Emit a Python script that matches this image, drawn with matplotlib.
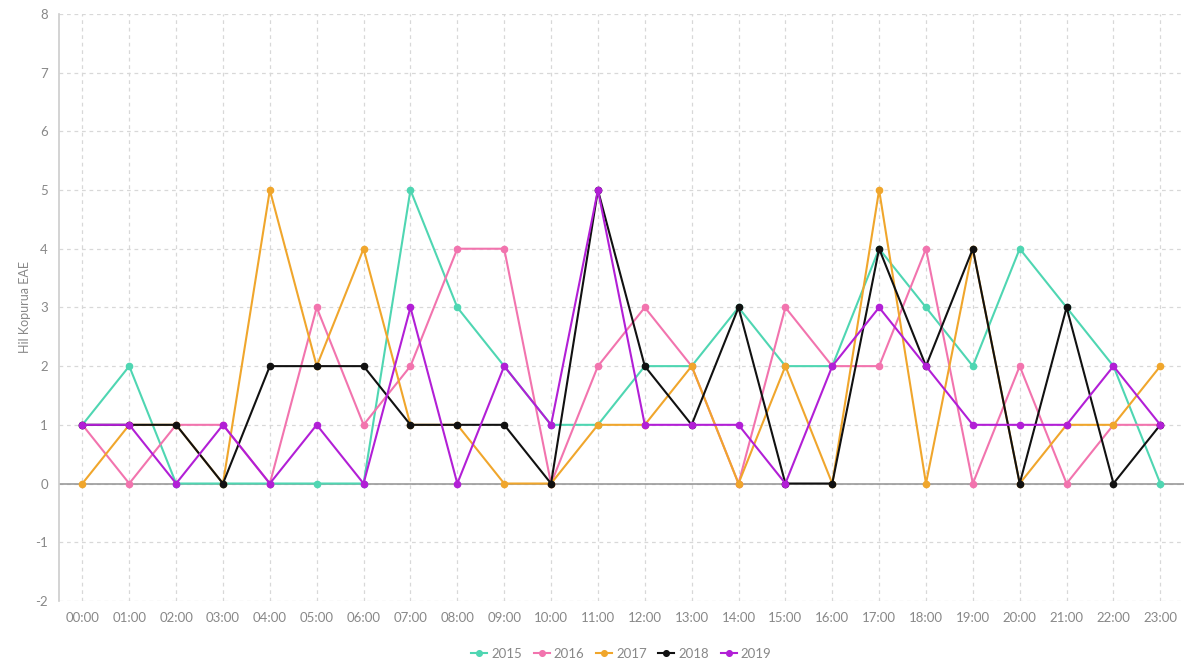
import matplotlib
matplotlib.use('Agg')
import matplotlib.pyplot as plt

plt.rcParams['font.family'] = ['Lato', 'DejaVu Sans']
plt.rcParams['axes.unicode_minus'] = False

hours = [f'{h:02d}:00' for h in range(24)]

y2015 = [1, 2, 0, 0, 0, 0, 0, 5, 3, 2, 1, 1, 2, 2, 3, 2, 2, 4, 3, 2, 4, 3, 2, 0]
y2016 = [1, 0, 1, 1, 0, 3, 1, 2, 4, 4, 0, 2, 3, 2, 0, 3, 2, 2, 4, 0, 2, 0, 1, 1]
y2017 = [0, 1, 1, 0, 5, 2, 4, 1, 1, 0, 0, 1, 1, 2, 0, 2, 0, 5, 0, 4, 0, 1, 1, 2]
y2018 = [1, 1, 1, 0, 2, 2, 2, 1, 1, 1, 0, 5, 2, 1, 3, 0, 0, 4, 2, 4, 0, 3, 0, 1]
y2019 = [1, 1, 0, 1, 0, 1, 0, 3, 0, 2, 1, 5, 1, 1, 1, 0, 2, 3, 2, 1, 1, 1, 2, 1]

series = [('2015', y2015, '#4fd6b2'),
          ('2016', y2016, '#f274ae'),
          ('2017', y2017, '#f0a62c'),
          ('2018', y2018, '#111111'),
          ('2019', y2019, '#b21fd6')]

fig, ax = plt.subplots(figsize=(12.03, 6.64), dpi=100)
fig.subplots_adjust(left=0.049, right=0.984, top=0.979, bottom=0.095)

x = list(range(len(hours)))
for name, vals, col in series:
    ax.plot(x, vals, color=col, marker='o', markersize=4.5, linewidth=1.5, label=name)

ax.axhline(0, color='#999999', linewidth=1.2, zorder=1)
ax.set_xlim(-0.5, 23.5)
ax.set_ylim(-2, 8)
ax.set_yticks(range(-2, 9))
ax.set_xticks(x)
ax.set_xticklabels(hours)
ax.set_ylabel('Hil Kopurua EAE', color='#888888', fontsize=9, labelpad=3)

ax.grid(True, linestyle=(0, (3, 3)), color='#d8d8d8', linewidth=0.9)
ax.set_axisbelow(True)
for s in ['top', 'right', 'bottom']:
    ax.spines[s].set_visible(False)
ax.spines['left'].set_color('#cccccc')
ax.spines['left'].set_linewidth(1.2)
ax.tick_params(axis='both', length=0, colors='#888888', labelsize=9.5, pad=8)

ax.legend(loc='upper center', bbox_to_anchor=(0.5, -0.06), ncol=5, frameon=False,
          fontsize=9.5, labelcolor='#888888', handlelength=1.2, handletextpad=0.3,
          columnspacing=0.9, markerscale=0.9)

plt.savefig('out.png', dpi=100)
